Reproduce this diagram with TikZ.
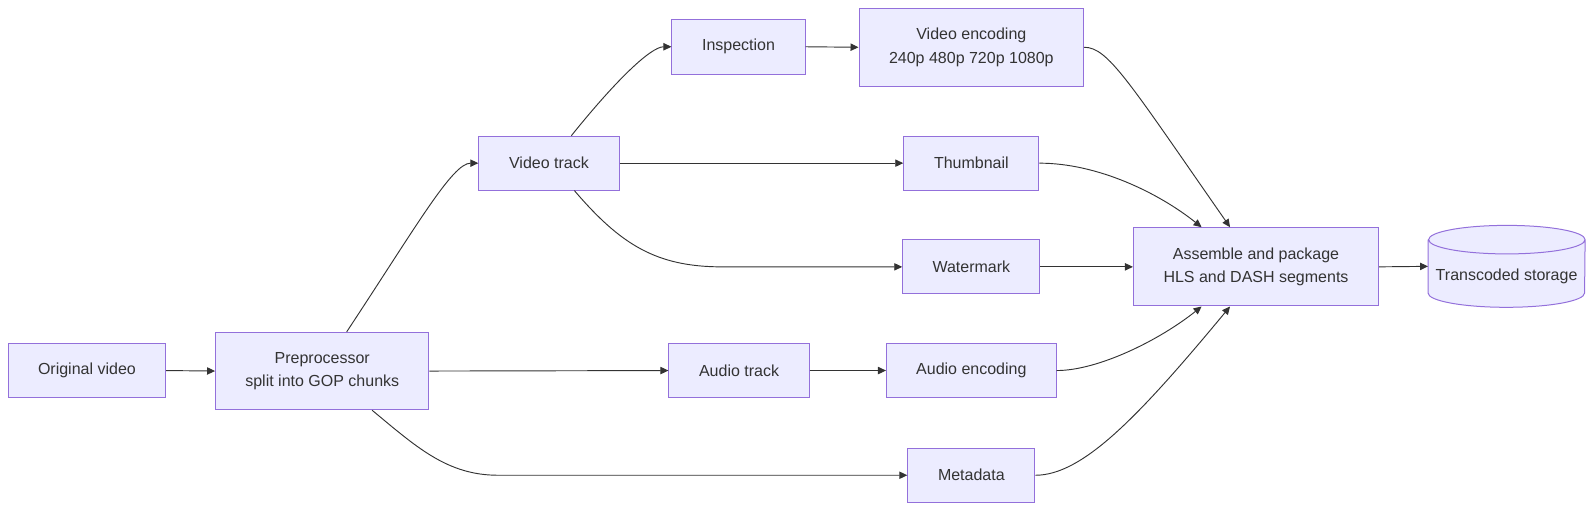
\documentclass[tikz,border=0pt]{standalone}
\usepackage{fontspec}
\setmainfont{Liberation Sans}
\usetikzlibrary{arrows.meta,calc}
\definecolor{boxfill}{HTML}{ECECFF}
\definecolor{boxborder}{HTML}{9370DB}
\definecolor{edgecol}{HTML}{333333}
\definecolor{txtcol}{HTML}{333333}
\tikzset{
  box/.style={draw=boxborder, fill=boxfill, line width=0.75pt, inner sep=0pt, align=center,
    text=txtcol, font=\fontsize{12pt}{17.5pt}\selectfont},
  flow/.style={draw=edgecol, line width=0.7pt, -{Triangle[length=6pt,width=5.5pt]}},
  cyl/.style={draw=boxborder, fill=boxfill, line width=0.75pt},
}
\begin{document}
\begin{tikzpicture}[x=0.7625pt, y=-0.7625pt]
\useasboundingbox (0,0) rectangle (1568,502);
\node[box, minimum width=118.2pt, minimum height=40.4pt] (orig) at (85.5,364.5) {Original video};
\node[box, minimum width=160.1pt, minimum height=58pt] (pre) at (317,365) {Preprocessor\\split into GOP chunks};
\node[box, minimum width=105.2pt, minimum height=40.4pt] (vt) at (540,160.5) {Video track};
\node[box, minimum width=99.9pt, minimum height=41.2pt] (insp) at (726.5,46) {Inspection};
\node[box, minimum width=168.5pt, minimum height=58.7pt] (venc) at (955.5,46.5) {Video encoding\\240p 480p 720p 1080p};
\node[box, minimum width=101.4pt, minimum height=40.4pt] (thumb) at (955.5,160.5) {Thumbnail};
\node[box, minimum width=102.9pt, minimum height=40.4pt] (wm) at (955.5,262.5) {Watermark};
\node[box, minimum width=183.8pt, minimum height=58.7pt] (asm) at (1235.5,262.5) {Assemble and package\\HLS and DASH segments};
\node[box, minimum width=105.2pt, minimum height=40.4pt] (atr) at (727,364.5) {Audio track};
\node[box, minimum width=127.3pt, minimum height=40.4pt] (aenc) at (955.5,364.5) {Audio encoding};
\node[box, minimum width=95.3pt, minimum height=40.4pt] (meta) at (955.5,467.5) {Metadata};
% storage cylinder
\node[minimum width=117.4pt, minimum height=61pt, inner sep=0pt] (store) at (1482,262) {};
\fill[boxfill] ($(store.north west)+(0,14)$) -- ($(store.south west)+(0,-14)$)
  arc[start angle=180, end angle=360, x radius=58.7pt, y radius=10.7pt]
  -- ($(store.north east)+(0,14)$)
  arc[start angle=0, end angle=180, x radius=58.7pt, y radius=10.7pt] -- cycle;
\draw[cyl, fill=none] ($(store.north west)+(0,14)$) -- ($(store.south west)+(0,-14)$)
  arc[start angle=180, end angle=360, x radius=58.7pt, y radius=10.7pt]
  -- ($(store.north east)+(0,14)$)
  arc[start angle=0, end angle=180, x radius=58.7pt, y radius=10.7pt]
  arc[start angle=180, end angle=360, x radius=58.7pt, y radius=10.7pt];
\node[text=txtcol, font=\fontsize{12pt}{17.5pt}\selectfont, inner sep=0pt] (storetext) at ($(store.center)+(0,10)$) {Transcoded storage};
% edges
\draw[flow] (orig.east) -- (pre.west);
\draw[flow] ($(pre.north)+(24,0)$) .. controls (410,222) and (445,160.5) .. (vt.west);
\draw[flow] (pre.east) -- (atr.west);
\draw[flow] ($(pre.south)+(49,0)$) .. controls (410,440) and (440,467.5) .. (490,467.5) -- (meta.west);
\draw[flow] ($(vt.north)+(22,0)$) .. controls (605,80) and (640,46) .. (insp.west);
\draw[flow] (vt.east) -- (thumb.west);
\draw[flow] ($(vt.south)+(25,0)$) .. controls (610,240) and (645,262.5) .. (710,262.5) -- (wm.west);
\draw[flow] (insp.east) -- (venc.west);
\draw[flow] (venc.east) .. controls (1090,46.5) and (1110,80) .. ($(asm.north)+(-25.5,0)$);
\draw[flow] (thumb.east) .. controls (1080,160.5) and (1140,190) .. ($(asm.north)+(-53.5,0)$);
\draw[flow] (wm.east) -- (asm.west);
\draw[flow] (atr.east) -- (aenc.west);
\draw[flow] (aenc.east) .. controls (1080,364.5) and (1140,335) .. ($(asm.south)+(-53.5,0)$);
\draw[flow] (meta.east) .. controls (1065,467.5) and (1120,410) .. ($(asm.south)+(-25.5,0)$);
\draw[flow] (asm.east) -- (store.west);
\end{tikzpicture}
\end{document}
